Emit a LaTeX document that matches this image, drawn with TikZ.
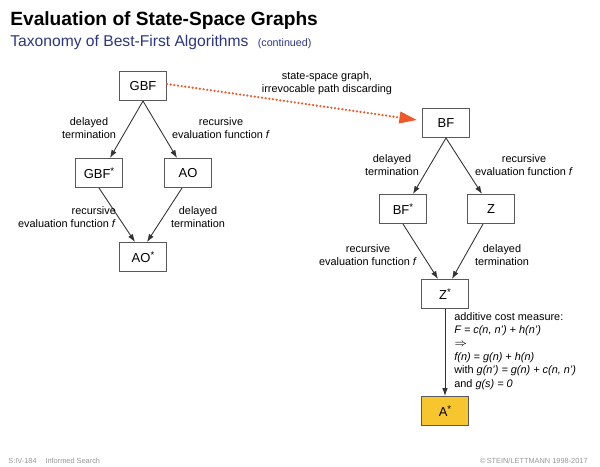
\documentclass[tikz,border=0pt]{standalone}
\usepackage{fontspec}
\setmainfont{Liberation Sans}
\usetikzlibrary{arrows.meta,positioning}
\definecolor{titleblue}{RGB}{42,54,128}
\definecolor{dotred}{RGB}{240,88,40}
\definecolor{astaryellow}{RGB}{247,197,45}
\definecolor{footgray}{RGB}{150,150,150}
\newcommand{\stern}{\raisebox{0.55ex}{\fontsize{5.5}{6}\selectfont*}}

\begin{document}
\begin{tikzpicture}[x=0.02cm, y=-0.02cm,
    box/.style={draw=black!65, line width=0.6pt, minimum width=0.94cm, minimum height=0.58cm, inner sep=0pt, font=\fontsize{7.4}{9}\selectfont},
    lbl/.style={align=center, inner sep=0pt, font=\fontsize{6.2}{7.2}\selectfont},
    arr/.style={draw=black!80, line width=0.5pt, -{Latex[length=4.5pt,width=3.2pt]}},
    foot/.style={inner sep=0pt, text=footgray, font=\fontsize{4.2}{5}\selectfont}]
    \useasboundingbox (0,0) rectangle (600,467);

    % Titel
    \node (title) at (10,25) [anchor=base west, inner sep=0pt, font=\bfseries\fontsize{10.9}{13}\selectfont] {Evaluation of State-Space Graphs};
    \node (subtitle) at (10,46) [anchor=base west, inner sep=0pt, text=titleblue, font=\fontsize{8.9}{11}\selectfont] {Taxonomy of Best-First Algorithms\hspace{0.6em}{\fontsize{6.1}{7}\selectfont(continued)}};

    % linker Teil
    \node (gbf) at (143,86) [box] {GBF};
    \node (gbfs) at (99,173) [box] {GBF\stern};
    \node (ao) at (188,173) [box] {AO};
    \node (aos) at (143,257) [box] {AO\stern};

    \draw[arr] (gbf.south) -- ([xshift=0.22cm]gbfs.north);
    \draw[arr] (gbf.south) -- ([xshift=-0.22cm]ao.north);
    \draw[arr] (gbfs.south) -- ([xshift=-0.16cm]aos.north);
    \draw[arr] ([xshift=-0.12cm]ao.south) -- ([xshift=0.08cm]aos.north);

    \node (l1) at (89,128) [lbl] {delayed\\termination};
    \node (l2) at (221,128) [lbl] {recursive\\evaluation function \textit{f}};
    \node (l3) at (67,217) [lbl, align=right] {recursive\\evaluation function \textit{f}};
    \node (l4) at (198,217) [lbl] {delayed\\termination};

    % rechter Teil
    \node (bf) at (446,123) [box] {BF};
    \node (bfs) at (403,209) [box] {BF\stern};
    \node (z) at (491,209) [box] {Z};
    \node (zs) at (445,294) [box] {Z\stern};
    \node (as) at (445,411) [box, fill=astaryellow] {A\stern};

    \draw[arr] (bf.south) -- ([xshift=0.2cm]bfs.north);
    \draw[arr] (bf.south) -- ([xshift=-0.18cm]z.north);
    \draw[arr] (bfs.south) -- ([xshift=-0.14cm]zs.north);
    \draw[arr] ([xshift=-0.16cm]z.south) -- ([xshift=0.14cm]zs.north);
    \draw[arr] (zs) -- (as);

    \node (r1) at (392,165) [lbl] {delayed\\termination};
    \node (r2) at (524,165) [lbl] {recursive\\evaluation function \textit{f}};
    \node (r3) at (368,255) [lbl] {recursive\\evaluation function \textit{f}};
    \node (r4) at (502,255) [lbl] {delayed\\termination};

    \node (cost) at (454,312) [lbl, anchor=north west, align=left, font=\fontsize{6.2}{7.6}\selectfont]
      {additive cost measure:\\
       \textit{F = c(n, n') + h(n')}\\
       $\Rightarrow$\\
       \textit{f(n) = g(n) + h(n)}\\
       with \textit{g(n') = g(n) + c(n, n')}\\
       and \textit{g(s) = 0}};

    % Verbindung
    \draw[dotred, line width=1.4pt, line cap=round, dash pattern=on 0pt off 2.1pt, -{Triangle[length=10pt,width=6.5pt]}]
      ([yshift=0.04cm]gbf.east) -- ([xshift=-0.1cm,yshift=0.06cm]bf.west);
    \node (sg) at (327,83) [lbl] {state-space graph,\\irrevocable path discarding};

    % Fusszeile
    \node (f1) at (8,461) [foot, anchor=west] {S:IV-184\hspace{1.2em}Informed Search};
    \node (f2) at (588,461) [foot, anchor=east] {\textcopyright\,STEIN/LETTMANN 1998-2017};
\end{tikzpicture}
\end{document}
